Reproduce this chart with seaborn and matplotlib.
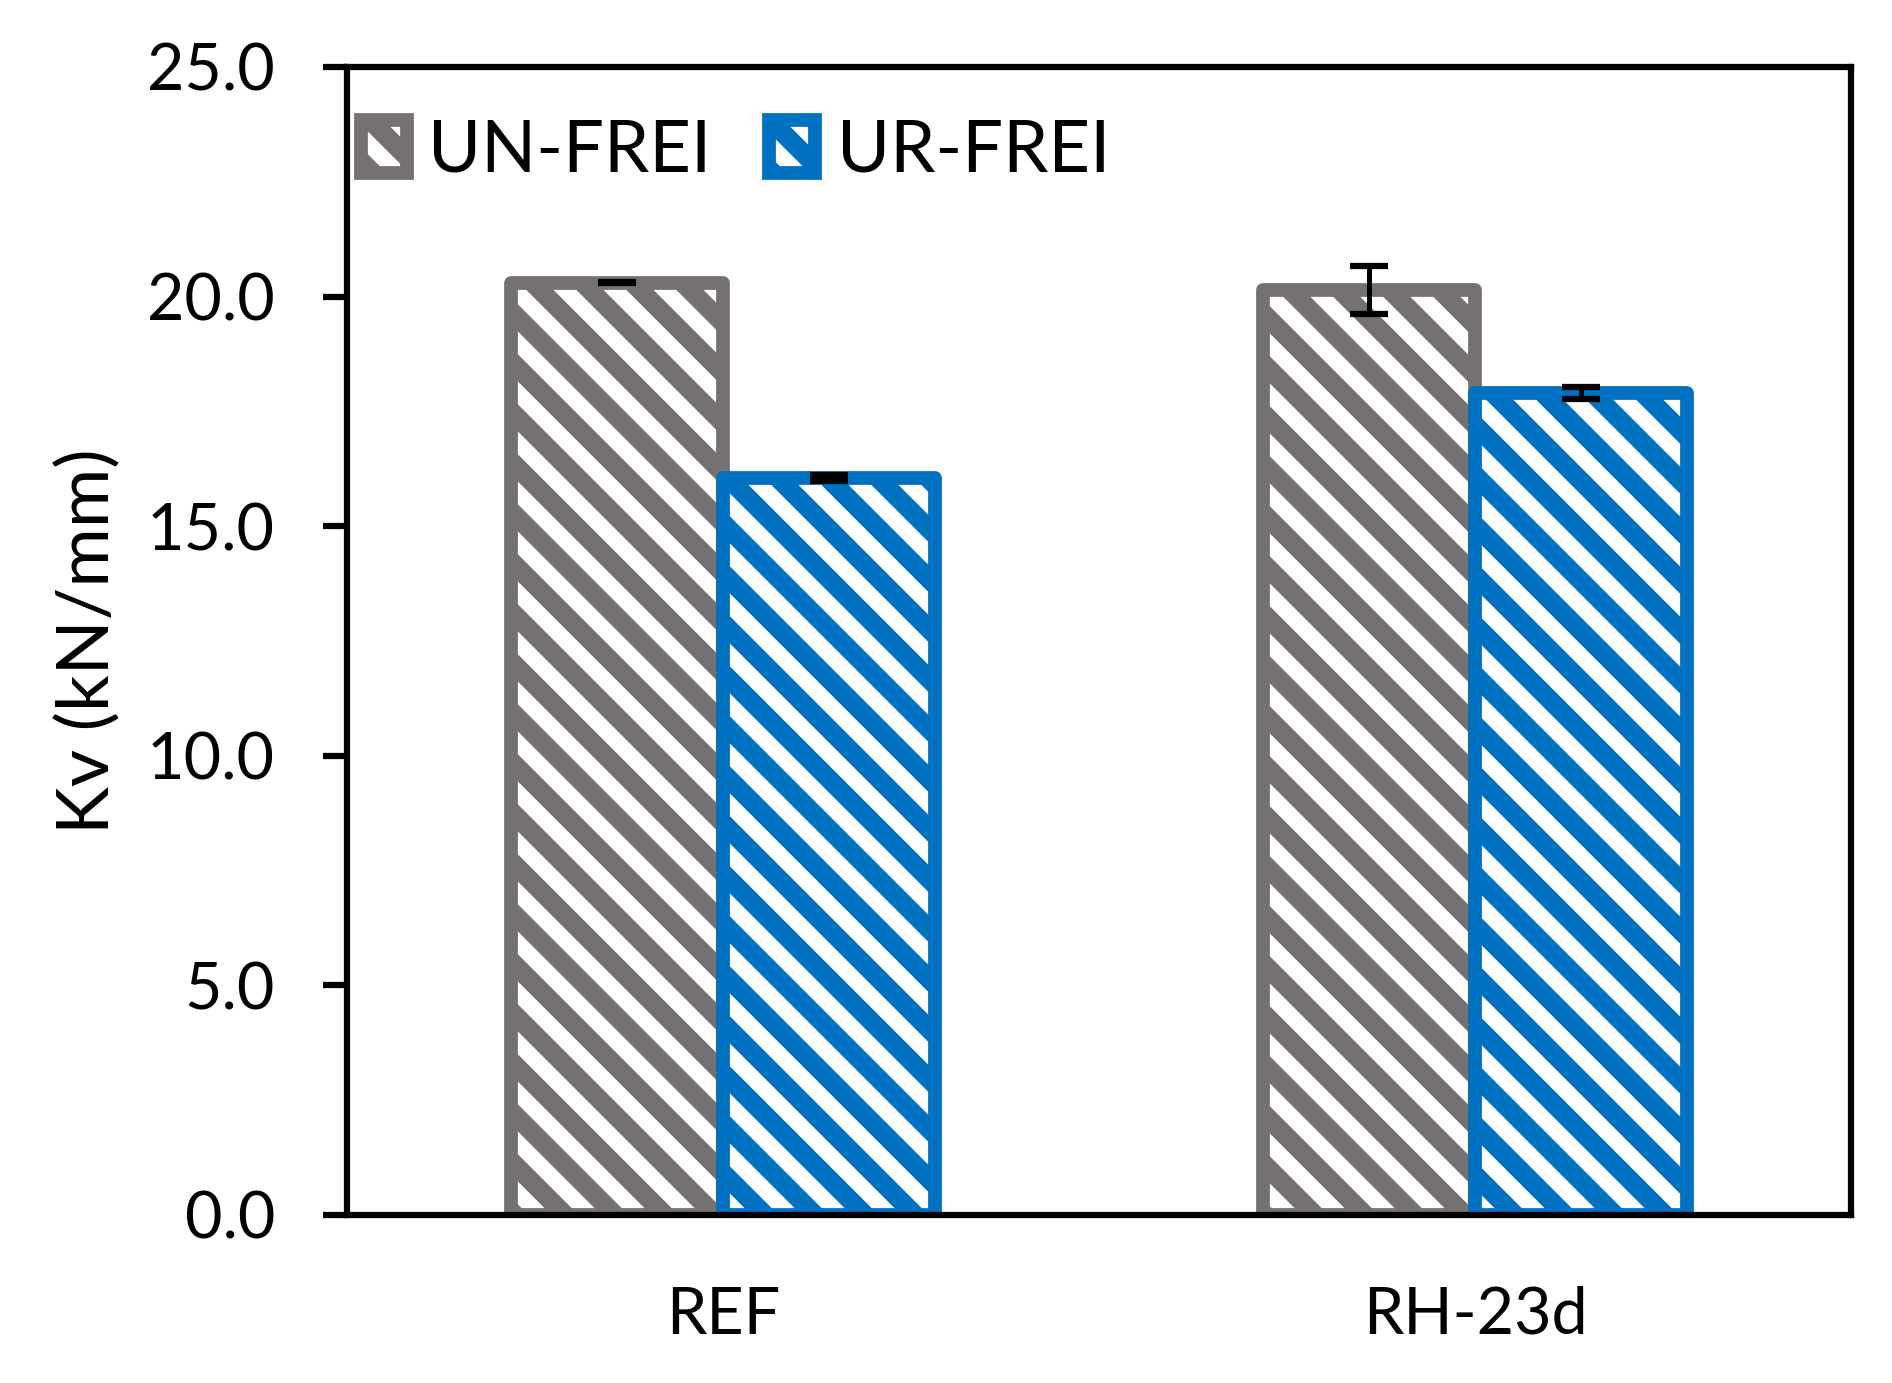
import numpy as np
import pandas as pd
import matplotlib
matplotlib.use("Agg")
import matplotlib.pyplot as plt
import seaborn as sns
from matplotlib.patches import Patch

# data
categories = ["REF", "RH-23d"]
series = ["UN-FREI", "UR-FREI"]
un_frei = [20.30, 20.15]
un_frei_err = [0.01, 0.52]
ur_frei = [16.05, 17.90]
ur_frei_err = [0.07, 0.13]
y_ticks = [0, 5, 10, 15, 20, 25]

colors = {"UN-FREI": "#767171", "UR-FREI": "#0070C0"}

df = pd.DataFrame({
    "cat": categories * 2,
    "series": [series[0]] * 2 + [series[1]] * 2,
    "kv": un_frei + ur_frei,
})
errs = [un_frei_err, ur_frei_err]

sns.set_style("white")
plt.rcParams["font.family"] = ["Lato", "DejaVu Sans"]
plt.rcParams["text.color"] = "black"
plt.rcParams["axes.labelcolor"] = "black"
plt.rcParams["xtick.color"] = "black"
plt.rcParams["ytick.color"] = "black"
plt.rcParams["hatch.linewidth"] = 4.6

fig = plt.figure(figsize=(6.31, 4.61), dpi=300)
ax = fig.add_axes([0.1833, 0.1215, 0.9778 - 0.1833, 0.9516 - 0.1215])

sns.barplot(data=df, x="cat", y="kv", hue="series", order=categories,
            hue_order=series, palette=colors, width=0.565, errorbar=None,
            ax=ax, legend=False)

#white bars with coloured outline and hatch
for cont, s, err in zip(ax.containers, series, errs):
    for bar, e in zip(cont, err):
        bar.set_facecolor("white")
        bar.set_edgecolor(colors[s])
        bar.set_linewidth(3.3)
        bar.set_joinstyle("round")
        bar.set_hatch("\\\\")
        xc = bar.get_x() + bar.get_width() / 2
        ax.errorbar(xc, bar.get_height(), yerr=e, fmt="none", ecolor="black",
                    elinewidth=1.2, capsize=4.5, capthick=1.5, zorder=5)

# legend with hatched square handles
handles = [Patch(facecolor="white", edgecolor=colors[s], hatch="\\\\",
                 linewidth=3.3, joinstyle="round", label=s) for s in series]
ax.legend(handles=handles, loc="upper left", bbox_to_anchor=(0.009, 0.955),
          ncol=2, frameon=False, fontsize=17.3, borderpad=0, borderaxespad=0,
          handlelength=0.64, handleheight=0.74, handletextpad=0.3,
          columnspacing=0.8)

ax.set_xlim(-0.5, 1.5)
ax.set_ylim(0, 25)
ax.set_yticks(y_ticks)
ax.set_yticklabels([f"{v:.1f}" for v in y_ticks])
ax.tick_params(axis="y", length=5.8, width=1.5, pad=11.5, labelsize=15.5,
               direction="out", left=True)
ax.tick_params(axis="x", length=0, pad=17, labelsize=15.5)
ax.set_xlabel("")
ax.set_ylabel("Kv (kN/mm)", fontsize=17.3, labelpad=6)

for sp in ax.spines.values():
    sp.set_color("black")
    sp.set_linewidth(1.5)

fig.savefig("out.png", dpi=300)
